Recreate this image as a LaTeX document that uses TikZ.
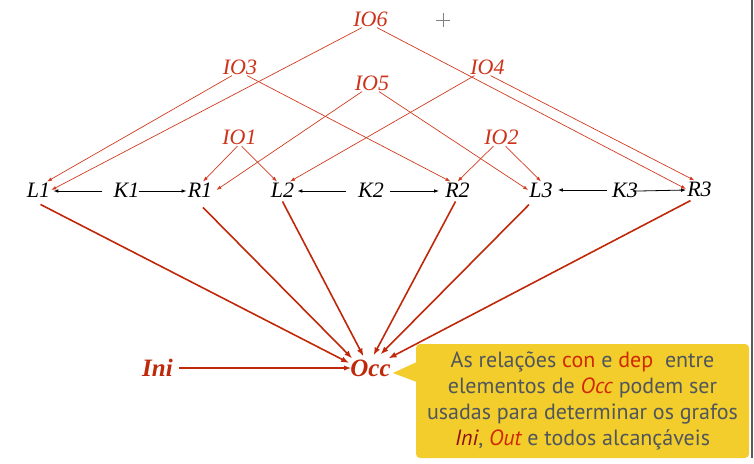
\documentclass[tikz,border=0pt]{standalone}
\usepackage{fontspec}
\setmainfont{Liberation Serif}
\newfontfamily\notefont{PT Sans}
\usetikzlibrary{arrows.meta}
\definecolor{iored}{HTML}{CC331A}
\definecolor{thinred}{HTML}{D03A20}
\definecolor{thickred}{HTML}{C0280A}
\definecolor{noteyellow}{HTML}{F2CD2B}
\definecolor{notegray}{HTML}{51565D}
\definecolor{conred}{HTML}{D02800}
\definecolor{inired}{HTML}{8E0E0E}
\tikzset{
  lab/.style={font=\fontsize{22}{22}\selectfont\itshape, inner sep=1pt},
  iolab/.style={lab, text=iored},
  big/.style={font=\fontsize{25}{25}\selectfont\bfseries\itshape, text=thickred, inner sep=1pt},
  ioedge/.style={draw=thinred, line width=0.7pt, -{Latex[length=5pt,width=3.6pt]}},
  kedge/.style={draw=black, line width=0.8pt, -{Latex[length=5pt,width=3.6pt]}},
  occedge/.style={draw=thickred, line width=1.6pt, -{Latex[length=8pt,width=6pt]}},
  notebox/.style={fill=noteyellow, rounded corners=4pt, minimum width=333pt, minimum height=114pt,
    inner sep=0pt, align=center, text=notegray, font=\notefont\fontsize{22}{26}\selectfont}
}
\begin{document}
\begin{tikzpicture}[x=1pt, y=-1pt]
\useasboundingbox (0,0) rectangle (754,463);
% artifacts of the screen
\draw[gray!70!black, line width=1.2pt] (752,0) -- (752,458);
\draw[gray, line width=0.5pt] (436,20) -- (450,20) (443,13) -- (443,27);

% IO labels
\node[iolab] (IO6) at (370.5,19) {IO6};
\node[iolab] (IO3) at (240,67) {IO3};
\node[iolab] (IO4) at (487.5,67) {IO4};
\node[iolab] (IO5) at (372,83) {IO5};
\node[iolab] (IO1) at (239.5,137.5) {IO1};
\node[iolab] (IO2) at (501.5,137.5) {IO2};

% row
\node[lab] (L1) at (38.5,190) {L1};
\node[lab] (K1) at (126.5,190) {K1};
\node[lab] (R1) at (200,190) {R1};
\node[lab] (L2) at (282.5,190) {L2};
\node[lab] (K2) at (371,190) {K2};
\node[lab] (R2) at (457.5,190) {R2};
\node[lab] (L3) at (541,190) {L3};
\node[lab] (K3) at (625,190) {K3};
\node[lab] (R3) at (699.5,189) {R3};

\node[big] (Ini) at (157.5,368) {Ini};
\node[big] (Occ) at (370.5,368) {Occ};

% IO edges
\draw[ioedge] ([xshift=-8.5pt]IO6.south) -- (L1.east);
\draw[ioedge] ([xshift=6.5pt]IO6.south) -- (R3.west);
\draw[ioedge] ([xshift=-8pt]IO3.south) -- ([xshift=8.5pt]L1.north);
\draw[ioedge] ([xshift=7pt]IO3.south) -- ([xshift=-7pt]R2.north);
\draw[ioedge] ([xshift=-13pt]IO4.south) -- ([xshift=7.5pt]L2.north);
\draw[ioedge] ([xshift=3pt]IO4.south) -- ([xshift=-5pt]R3.north);
\draw[ioedge] ([xshift=-10pt]IO5.south) -- ([xshift=3pt]R1.east);
\draw[ioedge] ([xshift=7pt]IO5.south) -- (L3.west);
\draw[ioedge] ([xshift=-2pt]IO1.south) -- ([xshift=3pt]R1.north);
\draw[ioedge] ([xshift=2pt]IO1.south) -- ([xshift=-5.5pt]L2.north);
\draw[ioedge] ([xshift=-8pt]IO2.south) -- (R2.north);
\draw[ioedge] ([xshift=4pt]IO2.south) -- (L3.north);

% K edges
\draw[kedge, shorten <=10pt, shorten >=2pt] ([yshift=-1pt]K1.west) -- ([yshift=-1pt]L1.east);
\draw[kedge, shorten <=-2pt] ([yshift=-1pt]K1.east) -- ([yshift=-1pt]R1.west);
\draw[kedge, shorten <=11pt, shorten >=2pt] ([yshift=-1pt]K2.west) -- ([yshift=-1pt]L2.east);
\draw[kedge, shorten <=5pt, shorten >=5pt] ([yshift=-1pt]K2.east) -- ([yshift=-1pt]R2.west);
\draw[kedge, shorten <=4pt, shorten >=4pt] (K3.west) -- (L3.east);
\draw[kedge, shorten <=-6pt] ([yshift=-1pt]K3.east) -- ([yshift=-1pt]R3.west);

% edges to Occ
\draw[occedge] ([xshift=2pt,yshift=-6pt]L1.south) -- ([yshift=5pt]Occ.west);
\draw[occedge] ([xshift=3pt,yshift=-9pt]R1.south) -- ([xshift=3pt]Occ.north west);
\draw[occedge] ([yshift=-3pt]L2.south) -- ([xshift=-7pt,yshift=2pt]Occ.north);
\draw[occedge] ([xshift=-2pt,yshift=-3pt]R2.south) -- ([xshift=3pt,yshift=3pt]Occ.north);
\draw[occedge] ([xshift=-12pt,yshift=-6pt]L3.south) -- ([xshift=10pt,yshift=4pt]Occ.north);
\draw[occedge] ([xshift=-9pt,yshift=-3pt]R3.south) -- ([xshift=18pt]Occ.north);
\draw[draw=thickred, line width=1.2pt, -{Latex[length=7pt,width=5pt]}, shorten <=5pt, shorten >=-2pt] (Ini.east) -- (Occ.west);

% callout
\node[notebox] (note) at (582.5,401) {As relações {\color{conred}con} e {\color{conred}dep}~ entre\\
elementos de {\color{conred}\itshape Occ} podem ser\\
usadas para determinar os grafos\\
{\color{inired}\itshape Ini}, {\color{conred}\itshape Out} e todos alcançáveis};
\fill[noteyellow] ([xshift=1pt,yshift=39pt]note.west) -- ([xshift=1pt,yshift=-5pt]Occ.east) -- ([xshift=1pt,yshift=19pt]note.west) -- cycle;
\end{tikzpicture}
\end{document}
